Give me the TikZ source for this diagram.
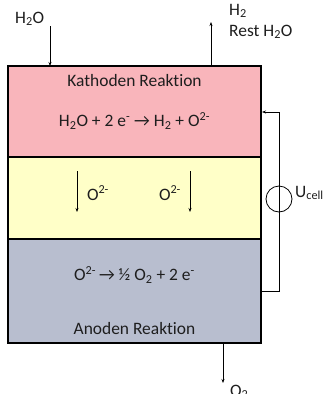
\documentclass[tikz,border=0pt]{standalone}
\usepackage{fontspec}
\setmainfont{Carlito}[Ligatures={NoCommon}]
\usetikzlibrary{arrows.meta}
\definecolor{pinkL}{HTML}{F9B5BB}
\definecolor{yellowL}{HTML}{FFFFC8}
\definecolor{grayL}{HTML}{B8BECF}
\definecolor{txt}{HTML}{1E1E1E}
\begin{document}
\begin{tikzpicture}[x=1bp,y=-1bp,
  layer/.style={draw=black,line width=1.2bp},
  lbl/.style={inner sep=0pt,text=txt,font=\fontsize{17.5}{20}\selectfont},
  flow/.style={-{Stealth[length=4bp,width=3bp]},line width=0.7bp},
  wire/.style={line width=0.8bp}]
\useasboundingbox (0,0) rectangle (324,394);
\fill[pinkL] (8,66) rectangle (261,157);
\fill[yellowL] (8,157) rectangle (261,239);
\fill[grayL] (8,239) rectangle (261,343);
\draw[layer] (8,157) -- (261,157);
\draw[layer] (8,239) -- (261,239);
\draw[layer] (8,66) rectangle (261,343);
% labels in layers
\node[lbl] (kat) at (134.5,81) {Kathoden Reaktion};
\node[lbl] (rk) at (134.5,121) {H\textsubscript{2}O + 2 e\textsuperscript{-} \textrightarrow\ H\textsubscript{2} + O\textsuperscript{2-}};
\node[lbl] (ra) at (134.5,275) {O\textsuperscript{2-}\,\textrightarrow\ ½ O\textsubscript{2} + 2 e\textsuperscript{-}};
\node[lbl] (an) at (134.5,329) {Anoden Reaktion};
\node[lbl] (o1) at (98,193) {O\textsuperscript{2-}};
\node[lbl] (o2) at (170,193) {O\textsuperscript{2-}};
\coordinate (a1s) at (77,171); \coordinate (a1e) at (77,212);
\coordinate (a2s) at (190,171); \coordinate (a2e) at (190,212);
\draw[flow] (a1s) -- (a1e);
\draw[flow] (a2s) -- (a2e);
% inputs / outputs
\node[lbl,anchor=west] (h2oin) at (15,19) {H\textsubscript{2}O};
\coordinate (ins) at (50,26); \coordinate (ine) at (50,66);
\draw[flow] (ins) -- (ine);
\coordinate (outs) at (211,66); \coordinate (oute) at (211,22);
\draw[flow] (outs) -- (oute);
\node[lbl,anchor=west] (h2) at (229,11) {H\textsubscript{2}};
\node[lbl,anchor=west] (rest) at (229,32) {Rest H\textsubscript{2}O};
\coordinate (o2s) at (223,343); \coordinate (o2e) at (223,383);
\draw[flow] (o2s) -- (o2e);
\node[lbl,anchor=west] (o2out) at (230,392) {O\textsubscript{2}};
% circuit
\coordinate (wt) at (279,112);
\coordinate (wb) at (279,291);
\coordinate (bt) at (262,112);
\coordinate (bb) at (261,291);
\draw[wire] (bb) -- (wb) -- (wt);
\draw[flow] (wt) -- (bt);
\node[draw,circle,minimum size=26bp,inner sep=0pt,line width=0.8bp] (src) at (279,199) {};
\node[lbl,anchor=west] (uc) at (295,193) {U\textsubscript{cell}};
\end{tikzpicture}
\end{document}
